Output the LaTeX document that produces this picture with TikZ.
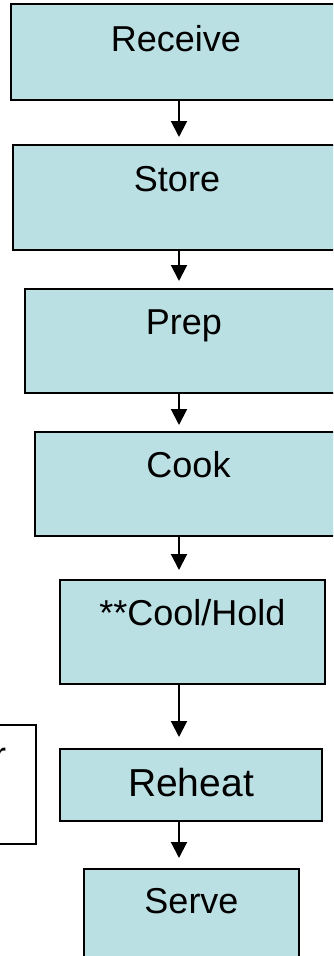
\documentclass[tikz,border=0pt]{standalone}
\usepackage{fontspec}
\setmainfont{Liberation Sans}
\usetikzlibrary{arrows.meta}
\definecolor{boxblue}{RGB}{187,224,227}

\begin{document}
\begin{tikzpicture}[x=1pt,y=-1pt,->,>={Triangle[width=16pt,length=16pt]},shorten >=7pt,
  line width=2pt,
  stepbox/.style={rectangle,draw,fill=boxblue,line width=2pt,inner sep=0pt,
    anchor=north west,font=\fontsize{36}{40}\selectfont}]

  \useasboundingbox (0,0) rectangle (333,956);
  \clip (0,0) rectangle (333,956);

  \node[stepbox,minimum width=330pt,text height=47pt,text depth=49pt] (rec) at (10,3) {Receive};
  \node[stepbox,minimum width=328pt,text height=46pt,text depth=59pt] (sto) at (12,144) {Store};
  \node[stepbox,minimum width=318pt,text height=45pt,text depth=59pt] (prep) at (24,288) {Prep};
  \node[stepbox,minimum width=307pt,text height=45pt,text depth=59pt] (cook) at (34,431) {Cook};
  \node[stepbox,minimum width=265pt,text height=45pt,text depth=59pt] (cool) at (59,579) {**Cool/Hold};
  \node[stepbox,minimum width=262pt,text height=47pt,text depth=25pt,
    font=\fontsize{39}{43}\selectfont] (reheat) at (59,748) {Reheat};
  \node[stepbox,minimum width=215pt,text height=44pt,text depth=70pt] (serve) at (83,868) {Serve};

  % box cut off at the left edge
  \node[stepbox,fill=white,minimum width=235pt,minimum height=119pt] (side) at (-200,724) {};
  \node[anchor=base east,inner sep=0pt,font=\fontsize{36}{40}\selectfont] (sidetext) at (7,767) {r};

  \coordinate (spine) at (179,0);

  \path (rec.south -| spine) edge (sto.north -| spine)
        (sto.south -| spine) edge (prep.north -| spine)
        (prep.south -| spine) edge [shorten >=6pt] (cook.north -| spine)
        (cook.south -| spine) edge [shorten >=9pt] (cool.north -| spine)
        (cool.south -| spine) edge [shorten >=11pt] (reheat.north -| spine)
        (reheat.south -| spine) edge [shorten >=10pt] (serve.north -| spine);
\end{tikzpicture}
\end{document}
